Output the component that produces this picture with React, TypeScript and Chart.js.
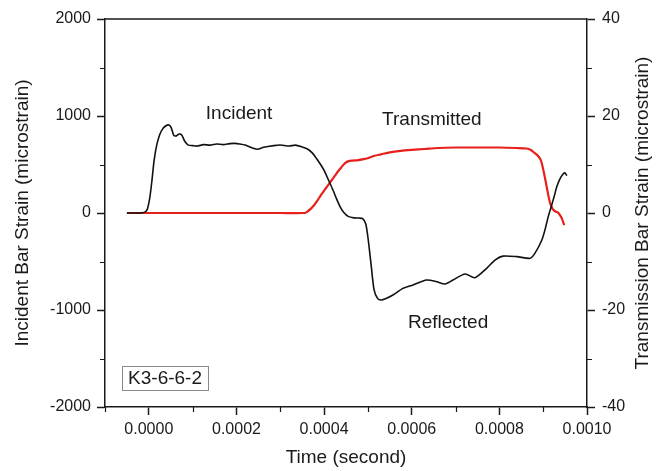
import React, { useEffect, useRef } from 'react';
import { Chart, registerables } from 'chart.js';

Chart.register(...registerables);

// ---- Data (time in seconds) ----
const incidentTime = [
  -0.00005, -0.00003, -0.000015, -0.000008, -0.000003, 0.000002, 0.000007, 0.000012, 0.000018, 0.000025,
  0.000032, 0.000039, 0.000046, 0.000051, 0.000057, 0.000063, 0.000069, 0.000075, 0.000082, 0.00009,
  0.0001, 0.00011, 0.000125, 0.00014, 0.000155, 0.00017, 0.000185, 0.000197, 0.000207, 0.00022,
  0.00024, 0.000248, 0.000262, 0.000285, 0.0003, 0.00032, 0.000335, 0.00035, 0.000362, 0.000373,
  0.000383, 0.000392, 0.0004, 0.00041, 0.00042, 0.000429, 0.000437, 0.000445, 0.000455, 0.000468,
  0.00048, 0.000488, 0.000495, 0.0005, 0.000507, 0.000514, 0.000522, 0.00053, 0.00054, 0.000557,
  0.00058, 0.000603, 0.000634, 0.000657, 0.000676, 0.000694, 0.000722, 0.000744, 0.000771, 0.00079,
  0.000808, 0.00084, 0.00087, 0.000881, 0.000897, 0.000904, 0.000912, 0.000918, 0.000925, 0.000931,
  0.000938, 0.000946, 0.00095, 0.000954,
];
const incidentStrain = [
  0, 0, 3, 12, 45, 150, 330, 540, 700, 810,
  870, 900, 907, 880, 800, 795, 814, 805, 740, 700,
  695, 690, 705, 700, 712, 705, 715, 718, 712, 700,
  665, 657, 677, 695, 701, 690, 700, 680, 660, 620,
  560, 500, 440, 340, 240, 140, 60, 5, -35, -50,
  -52, -58, -110, -250, -520, -790, -880, -897, -885, -845,
  -777, -742, -691, -708, -732, -691, -629, -667, -570, -485,
  -445, -450, -467, -416, -278, -175, -30, 60, 170, 271,
  350, 405, 412, 385,
];

const transmittedTime = [
  -0.00005, 0.0001, 0.0002, 0.0003, 0.000355, 0.000362, 0.00037, 0.000377, 0.000385, 0.000392,
  0.0004, 0.000408, 0.000416, 0.000424, 0.000432, 0.00044, 0.000448, 0.000456, 0.000466, 0.000478,
  0.00049, 0.0005, 0.000515, 0.00053, 0.00055, 0.000575, 0.0006, 0.00063, 0.00066, 0.0007,
  0.00075, 0.0008, 0.00084, 0.000862, 0.000872, 0.00088, 0.000888, 0.000895, 0.0009, 0.000905,
  0.000911, 0.000916, 0.000922, 0.000928, 0.000934, 0.000938, 0.000943, 0.000948,
];
const transmittedStrain = [
  0, 0, 0, 0, 0, 0.3, 0.9, 1.6, 2.6, 3.6,
  4.6, 5.6, 6.6, 7.6, 8.6, 9.5, 10.3, 10.7, 10.8, 10.9,
  11.1, 11.3, 11.8, 12.1, 12.5, 12.8, 13.0, 13.2, 13.4, 13.5,
  13.5, 13.5, 13.4, 13.3, 13.0, 12.4, 11.8, 10.8, 9.0, 6.8,
  4.0, 2.0, 0.8, 0.3, 0.1, -0.4, -1.2, -2.5,
];

// ---- Ticks ----
const xMajorTicks = [0, 0.0002, 0.0004, 0.0006, 0.0008, 0.001];
const xMinorTicks = [-0.0001, 0.0001, 0.0003, 0.0005, 0.0007, 0.0009];
const leftMajorTicks = [-2000, -1000, 0, 1000, 2000];
const leftMinorTicks = [-1500, -500, 500, 1500];
const rightMajorTicks = [-40, -20, 0, 20, 40];
const rightMinorTicks = [-30, -10, 10, 30];

// ---- Text ----
const xTitle = 'Time (second)';
const leftTitle = 'Incident Bar Strain (microstrain)';
const rightTitle = 'Transmission Bar Strain (microstrain)';
const annotationTexts = ['Incident', 'Transmitted', 'Reflected'];
const annotationTimes = [0.000206, 0.000646, 0.000683];
const annotationStrains = [1020, 964, -1134];
const sampleLabel = 'K3-6-6-2';
const sampleLabelTime = 0.000037;
const sampleLabelStrain = -1701;

const FONT = '"Liberation Sans", Arial, Helvetica, sans-serif';
const INK = '#1a1a1a';

const decorPlugin = {
  id: 'decor',
  afterDraw(chart: any) {
    const { ctx, chartArea: a, scales } = chart;
    const x = scales.x, y = scales.y, y2 = scales.y2;
    ctx.save();
    ctx.strokeStyle = INK;
    ctx.lineWidth = 1.5;
    // top frame line
    ctx.beginPath();
    ctx.moveTo(a.left, a.top);
    ctx.lineTo(a.right, a.top);
    ctx.stroke();
    // minor ticks
    ctx.lineWidth = 1.2;
    ctx.beginPath();
    xMinorTicks.forEach((v) => {
      const px = Math.round(x.getPixelForValue(v)) + 0.5;
      ctx.moveTo(px, a.bottom);
      ctx.lineTo(px, a.bottom + 5);
    });
    leftMinorTicks.forEach((v) => {
      const py = Math.round(y.getPixelForValue(v)) + 0.5;
      ctx.moveTo(a.left, py);
      ctx.lineTo(a.left - 5, py);
    });
    rightMinorTicks.forEach((v) => {
      const py = Math.round(y2.getPixelForValue(v)) + 0.5;
      ctx.moveTo(a.right, py);
      ctx.lineTo(a.right + 5, py);
    });
    ctx.stroke();
    ctx.fillStyle = INK;
    ctx.font = `19px ${FONT}`;
    ctx.textAlign = 'center';
    ctx.textBaseline = 'middle';
    // right axis title, reading bottom-to-top
    ctx.save();
    ctx.translate(y2.right - 24, (a.top + a.bottom) / 2);
    ctx.rotate(-Math.PI / 2);
    ctx.fillText(rightTitle, 0, 0);
    ctx.restore();
    // annotations
    annotationTexts.forEach((t, i) => {
      ctx.fillText(t, x.getPixelForValue(annotationTimes[i]), y.getPixelForValue(annotationStrains[i]));
    });
    // sample label box
    const cx = x.getPixelForValue(sampleLabelTime);
    const cy = y.getPixelForValue(sampleLabelStrain);
    const w = ctx.measureText(sampleLabel).width + 12;
    const h = 24;
    ctx.strokeStyle = '#8a8a8a';
    ctx.lineWidth = 1;
    ctx.strokeRect(Math.round(cx - w / 2) + 0.5, Math.round(cy - h / 2) + 0.5, Math.round(w), h);
    ctx.fillText(sampleLabel, cx, cy + 1);
    ctx.restore();
  },
};

export default function App() {
  const canvasRef = useRef<HTMLCanvasElement | null>(null);

  useEffect(() => {
    if (!canvasRef.current) return;
    Chart.defaults.font.family = FONT;
    const incidentData = incidentTime.map((t, i) => ({ x: t, y: incidentStrain[i] }));
    const transmittedData = transmittedTime.map((t, i) => ({ x: t, y: transmittedStrain[i] }));

    const axisCommon = {
      grid: { drawOnChartArea: false, drawTicks: true, tickLength: 8, tickColor: INK, tickWidth: 1.5 },
      border: { display: true, color: INK, width: 1.5 },
    };

    const chart = new Chart(canvasRef.current, {
      type: 'line',
      data: {
        datasets: [
          {
            label: 'Incident',
            data: incidentData,
            borderColor: '#111111',
            borderWidth: 1.6,
            pointRadius: 0,
            tension: 0.25,
            xAxisID: 'x',
            yAxisID: 'y',
          },
          {
            label: 'Transmitted',
            data: transmittedData,
            borderColor: '#e8201c',
            borderWidth: 2.2,
            pointRadius: 0,
            tension: 0.25,
            xAxisID: 'x',
            yAxisID: 'y2',
          },
        ],
      },
      options: {
        responsive: false,
        animation: false,
        layout: { padding: { top: 19, left: 0, right: 0, bottom: 0 } },
        plugins: { legend: { display: false }, tooltip: { enabled: false } },
        scales: {
          x: {
            type: 'linear',
            position: 'bottom',
            min: -0.0001,
            max: 0.001,
            afterBuildTicks: (s: any) => {
              s.ticks = xMajorTicks.map((v) => ({ value: v }));
            },
            afterFit: (s: any) => {
              s.height = 64;
            },
            ticks: {
              callback: (v: any) => Number(v).toFixed(4),
              font: { size: 16 },
              color: INK,
              padding: 5,
              maxRotation: 0,
              autoSkip: false,
            },
            ...axisCommon,
            title: {
              display: true,
              text: xTitle,
              font: { size: 19 },
              color: INK,
              padding: { top: 0, bottom: 2 },
            },
          },
          y: {
            type: 'linear',
            position: 'left',
            min: -2000,
            max: 2000,
            afterBuildTicks: (s: any) => {
              s.ticks = leftMajorTicks.map((v) => ({ value: v }));
            },
            afterFit: (s: any) => {
              s.width = 105;
            },
            ticks: {
              callback: (v: any) => String(v),
              font: { size: 16 },
              color: INK,
              padding: 6,
              autoSkip: false,
            },
            ...axisCommon,
            title: {
              display: true,
              text: leftTitle,
              font: { size: 19 },
              color: INK,
              padding: { top: 11, bottom: 0 },
            },
          },
          y2: {
            type: 'linear',
            position: 'right',
            min: -40,
            max: 40,
            afterBuildTicks: (s: any) => {
              s.ticks = rightMajorTicks.map((v) => ({ value: v }));
            },
            afterFit: (s: any) => {
              s.width = 80;
            },
            ticks: {
              callback: (v: any) => String(v),
              font: { size: 16 },
              color: INK,
              padding: 7,
              autoSkip: false,
            },
            ...axisCommon,
            title: { display: false },
          },
        },
      },
      plugins: [decorPlugin],
    } as any);

    return () => chart.destroy();
  }, []);

  return (
    <div style={{ position: 'absolute', left: 0, top: 0, width: 667, height: 471, background: '#ffffff' }}>
      <canvas ref={canvasRef} width={667} height={471} style={{ display: 'block' }} />
    </div>
  );
}
